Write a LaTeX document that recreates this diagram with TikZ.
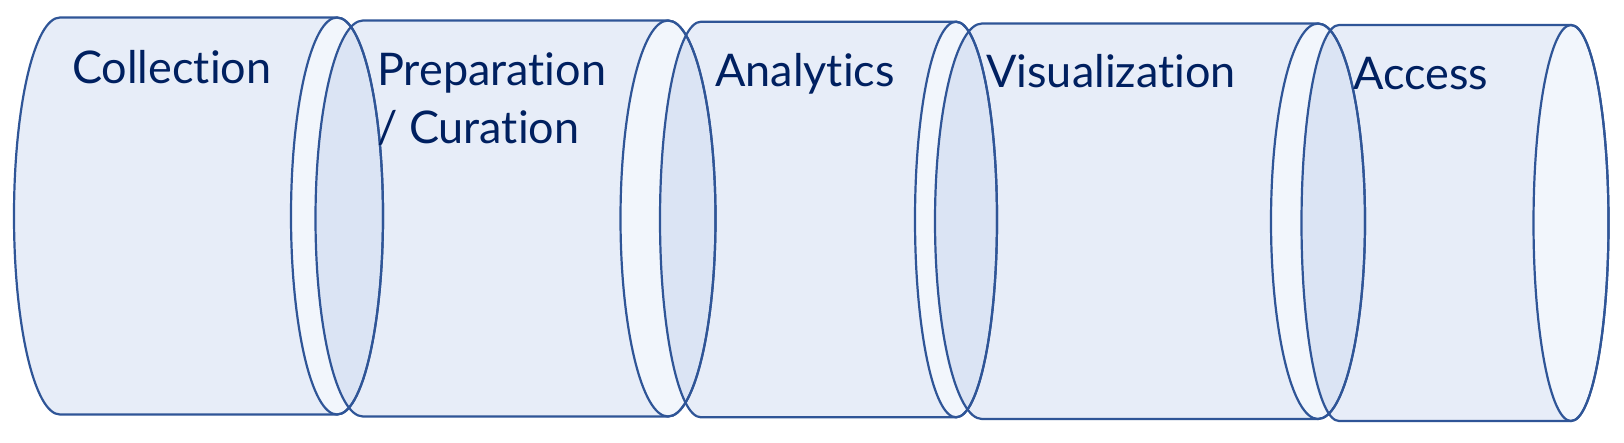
\documentclass[tikz,border=0pt]{standalone}
\usepackage{fontspec}
\setmainfont{Lato}[Ligatures={NoCommon,NoRequired,NoContextual,NoRare}]
\definecolor{edgec}{RGB}{47,85,151}
\definecolor{bodyc}{RGB}{231,237,248}
\definecolor{capc}{RGB}{242,246,252}
\definecolor{overc}{RGB}{219,228,244}
\definecolor{textc}{RGB}{0,32,96}
\tikzset{
  outline/.style={draw=edgec, line width=2.2pt, line join=round},
  label/.style={anchor=base west, inner sep=0pt, text=textc, font=\fontsize{45}{58}\selectfont, align=left},
}
% body path: #1 L, #2 R, #3 top, #4 bottom, #5 rx
\newcommand{\bodypath}[5]{%
  (#1,#3) arc[start angle=270, end angle=90, x radius=#5, y radius={(#4-#3)/2}]
  -- (#2,#4) arc[start angle=90, end angle=-90, x radius=#5, y radius={(#4-#3)/2}] -- cycle}
\newcommand{\cappath}[5]{%
  (#2,{(#3+#4)/2}) ellipse[x radius=#5, y radius={(#4-#3)/2}]}
\begin{document}
\begin{tikzpicture}[x=1pt,y=-1pt]
\useasboundingbox[fill=white] (0,0) rectangle (1624,442);
% cylinder 1
\fill[bodyc] \bodypath{60}{337}{17.5}{414.5}{46};
\fill[capc] \cappath{60}{337}{17.5}{414.5}{46};
% cylinder 2
\fill[bodyc] \bodypath{363}{668}{20.5}{416.5}{47.5};
\begin{scope}
  \clip \cappath{60}{337}{17.5}{414.5}{46};
  \fill[overc] \bodypath{363}{668}{20.5}{416.5}{47.5};
\end{scope}
\fill[capc] \cappath{363}{668}{20.5}{416.5}{47.5};
% cylinder 3
\fill[bodyc] \bodypath{701}{956}{21.7}{417.3}{41};
\begin{scope}
  \clip \cappath{363}{668}{20.5}{416.5}{47.5};
  \fill[overc] \bodypath{701}{956}{21.7}{417.3}{41};
\end{scope}
\fill[capc] \cappath{701}{956}{21.7}{417.3}{41};
% cylinder 4
\fill[bodyc] \bodypath{982}{1318}{23.5}{419}{47};
\begin{scope}
  \clip \cappath{701}{956}{21.7}{417.3}{41};
  \fill[overc] \bodypath{982}{1318}{23.5}{419}{47};
\end{scope}
\fill[capc] \cappath{982}{1318}{23.5}{419}{47};
% cylinder 5
\fill[bodyc] \bodypath{1339}{1571}{25}{421}{37.5};
\begin{scope}
  \clip \cappath{982}{1318}{23.5}{419}{47};
  \fill[overc] \bodypath{1339}{1571}{25}{421}{37.5};
\end{scope}
\fill[capc] \cappath{1339}{1571}{25}{421}{37.5};
% outlines
\draw[outline] \bodypath{60}{337}{17.5}{414.5}{46};
\draw[outline] \cappath{60}{337}{17.5}{414.5}{46};
\draw[outline] \bodypath{363}{668}{20.5}{416.5}{47.5};
\draw[outline] \cappath{363}{668}{20.5}{416.5}{47.5};
\draw[outline] \bodypath{701}{956}{21.7}{417.3}{41};
\draw[outline] \cappath{701}{956}{21.7}{417.3}{41};
\draw[outline] \bodypath{982}{1318}{23.5}{419}{47};
\draw[outline] \cappath{982}{1318}{23.5}{419}{47};
\draw[outline] \bodypath{1339}{1571}{25}{421}{37.5};
\draw[outline] \cappath{1339}{1571}{25}{421}{37.5};
% labels
\node[label] (collection) at (72,83) {Collection};
\node[label] (preparation) at (377,143) {Preparation\\/ Curation};
\node[label] (analytics) at (715,86.7) {Analytics};
\node[label] (visualization) at (986,87) {Visualization};
\node[label] (access) at (1353,89) {Access};
\end{tikzpicture}
\end{document}
